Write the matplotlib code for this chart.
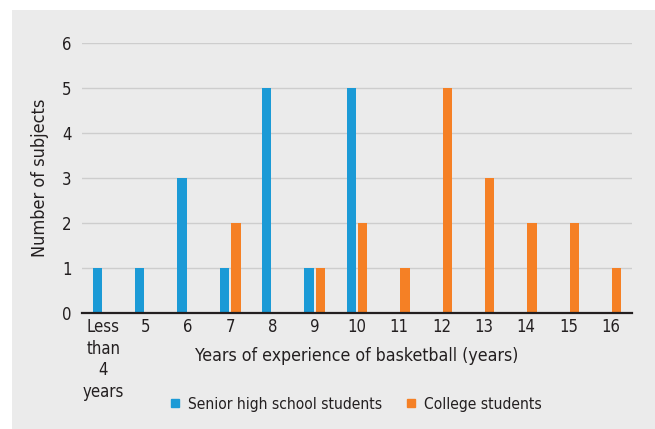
import numpy as np
import matplotlib
matplotlib.use("Agg")
import matplotlib.pyplot as plt
from matplotlib.patches import Rectangle
from matplotlib.lines import Line2D

plt.rcParams['font.family'] = ['DejaVu Sans']
plt.rcParams['font.stretch'] = 'condensed'

categories = ["Less\nthan\n4\nyears", "5", "6", "7", "8", "9", "10",
              "11", "12", "13", "14", "15", "16"]
senior_high = [1, 1, 3, 1, 5, 1, 5, 0, 0, 0, 0, 0, 0]
college = [0, 0, 0, 2, 0, 1, 2, 1, 5, 3, 2, 2, 1]

blue = "#1b9ad6"
orange = "#f58025"
panel = "#ebebeb"
txt = "#231f20"
fs = 12

fig = plt.figure(figsize=(6.55, 4.29), dpi=100, facecolor="white")
fig.patches.append(Rectangle((12 / 655, 0), 1, 1 - 10 / 429, transform=fig.transFigure,
                             facecolor=panel, edgecolor="none", zorder=-10))

ax = fig.add_axes([82 / 655, 1 - 312.7 / 429, 550 / 655, 270 / 429])
ax.set_facecolor("none")

x = np.arange(len(categories))
w = 0.22
off = 0.138
ax.bar(x - off, senior_high, w, color=blue, zorder=3)
ax.bar(x + off, college, w, color=orange, zorder=3)

ax.set_xlim(-0.5, len(categories) - 0.5)
ax.set_ylim(0, 6)
ax.set_yticks(range(0, 7))
ax.set_xticks(x)
ax.set_xticklabels(categories, fontsize=fs, color=txt, linespacing=1.25)
ax.tick_params(axis="both", length=0, labelsize=fs, labelcolor=txt)
ax.tick_params(axis="x", pad=4)
ax.tick_params(axis="y", pad=7.4)
ax.grid(True, axis="y", color="#cdcdcd", linewidth=1.0, zorder=0)
ax.set_axisbelow(True)

for s in ["top", "right", "left"]:
    ax.spines[s].set_visible(False)
ax.spines["bottom"].set_color(txt)
ax.spines["bottom"].set_linewidth(1.6)
ax.spines["bottom"].set_zorder(4)

ax.set_ylabel("Number of subjects", fontsize=13, color=txt)
ax.yaxis.set_label_coords(-0.06, 0.5)
ax.set_xlabel("Years of experience of basketball (years)", fontsize=12.7, color=txt)
ax.xaxis.set_label_coords(0.5, -0.128)

handles = [Line2D([], [], marker="s", color=blue, linestyle="none", markersize=6.2),
           Line2D([], [], marker="s", color=orange, linestyle="none", markersize=6.2)]
fig.legend(handles, ["Senior high school students", "College students"],
           loc="center", bbox_to_anchor=(356 / 655, 1 - 404 / 429), ncol=2,
           frameon=False, fontsize=11.2, handlelength=0.6, handletextpad=0.535,
           columnspacing=1.5, labelcolor=txt)

fig.savefig("out.png", dpi=100)
